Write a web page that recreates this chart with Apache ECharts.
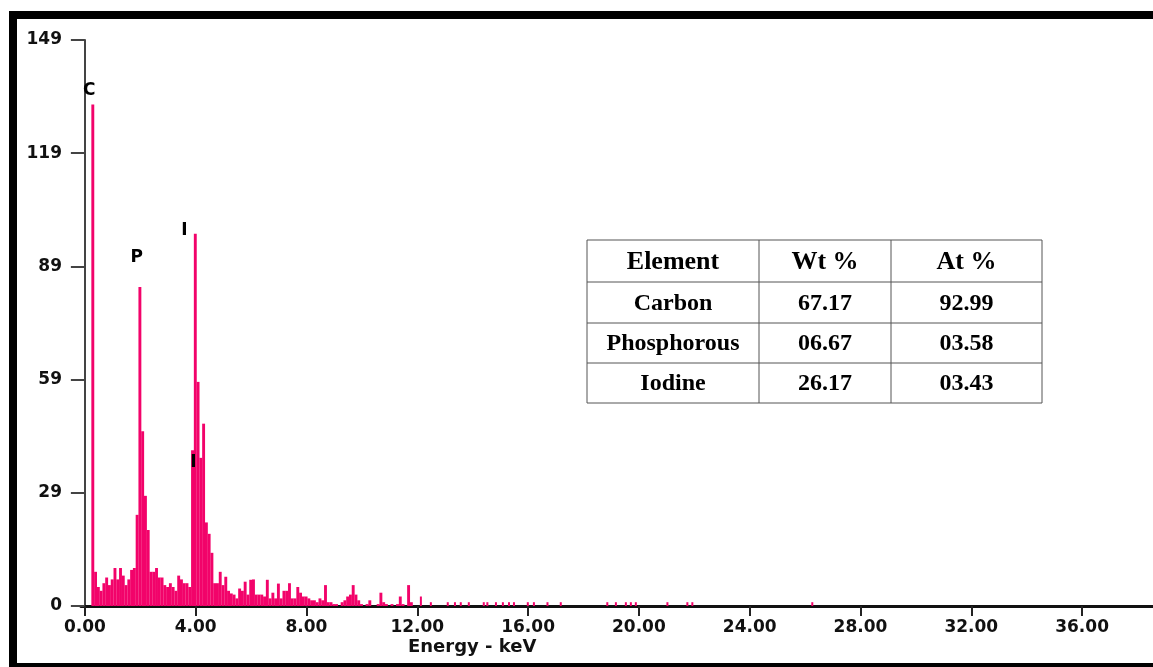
<!DOCTYPE html>
<html>
<head>
<meta charset="utf-8">
<script src="https://cdn.jsdelivr.net/npm/echarts@6/dist/echarts.min.js"></script>
<style>
  html, body { margin: 0; padding: 0; background: #fff; }
  #main { width: 1153px; height: 667px; }
</style>
</head>
<body>
<div id="main"></div>
<script>
// spectrum channels: centre of first bin and bin width (keV)
const binStart = 0.27;
const binStep = 0.1;
const counts = [
  132, 9, 5, 4, 6, 7.5, 5.5, 7, 10, 7,
  10, 8, 5.5, 7, 9.5, 10, 24, 84, 46, 29,
  20, 9, 9, 10, 7.5, 7.5, 5.5, 5, 6, 5,
  4, 8, 7, 6, 6, 5, 41, 98, 59, 39,
  48, 22, 19, 14, 6, 6, 9, 5.5, 7.7, 4,
  3.3, 3, 2, 4.6, 4, 6.4, 3, 6.9, 7, 3,
  3, 3, 2.5, 6.9, 2, 3.5, 2, 5.9, 2, 4,
  4, 6, 2, 2, 5, 3.5, 2.5, 2.5, 2, 1.5,
  1.5, 1, 2, 1.5, 5.5, 1, 1, 0.5, 0.5, 0,
  1, 1.5, 2.5, 3, 5.5, 3, 1.5, 0.5, 0, 0.5,
  1.5, 0, 0, 0.5, 3.5, 1, 0.5, 0, 0.5, 0,
  0.5, 2.5, 0.5, 0, 5.5, 1
];
// sparse counts in the high-energy tail
const tailEnergy = [12.13, 12.49, 13.10, 13.36, 13.57, 13.86, 14.40, 14.53, 14.84, 15.09,
  15.31, 15.49, 15.99, 16.21, 16.70, 17.18, 18.86, 19.17, 19.53, 19.71, 19.89, 21.03,
  21.75, 21.93, 26.26];
const tailCounts = [2.5, 1, 1, 1, 1, 1, 1, 1, 1, 1,
  1, 1, 1, 1, 1, 1, 1, 1, 1, 1, 1, 1,
  1, 1, 1];

const peakNames = ['C', 'P', 'I', 'I'];
const peakEnergy = [0.16, 1.87, 3.59, 3.92];
const peakCount = [135.6, 91.8, 98.9, 37.7];

const xTicks = [0, 4, 8, 12, 16, 20, 24, 28, 32, 36];
const yTicks = [0, 29.8, 59.6, 89.4, 119.2, 149];
const yTickLabels = ['0', '29', '59', '89', '119', '149'];

const tableHeader = ['Element', 'Wt %', 'At %'];
const tableRows = [
  ['Carbon', '67.17', '92.99'],
  ['Phosphorous', '06.67', '03.58'],
  ['Iodine', '26.17', '03.43']
];

const barColor = '#f2036a';
const axisFont = 'DejaVu Sans';

const mainData = counts.map(function (c, i) {
  return [+(binStart + i * binStep).toFixed(2), c];
});
const tailData = tailEnergy.map(function (e, i) { return [e, tailCounts[i]]; });
const labelData = peakNames.map(function (n, i) { return { name: n, value: [peakEnergy[i], peakCount[i]] }; });

// table drawn as graphic elements
function buildTable() {
  const colX = [587, 759, 891, 1042];
  const rowY = [240, 282, 323, 363, 403];
  const els = [];
  els.push({
    type: 'rect', shape: { x: colX[0], y: rowY[0], width: colX[3] - colX[0], height: rowY[4] - rowY[0] },
    style: { fill: '#fff', stroke: '#555', lineWidth: 1 }
  });
  for (let i = 1; i < 3; i++) {
    els.push({ type: 'line', shape: { x1: colX[i], y1: rowY[0], x2: colX[i], y2: rowY[4] }, style: { stroke: '#555', lineWidth: 1 } });
  }
  for (let j = 1; j < 4; j++) {
    els.push({ type: 'line', shape: { x1: colX[0], y1: rowY[j], x2: colX[3], y2: rowY[j] }, style: { stroke: '#555', lineWidth: 1 } });
  }
  const rows = [tableHeader].concat(tableRows);
  rows.forEach(function (row, r) {
    row.forEach(function (txt, c) {
      els.push({
        type: 'text',
        x: (colX[c] + colX[c + 1]) / 2,
        y: (rowY[r] + rowY[r + 1]) / 2 + 1,
        style: {
          text: txt,
          fill: '#000',
          font: 'bold ' + (r === 0 ? 26 : 24) + 'px "Liberation Serif", serif',
          textAlign: 'center',
          textVerticalAlign: 'middle'
        }
      });
    });
  });
  return els;
}

const chart = echarts.init(document.getElementById('main'));
const option = {
  animation: false,
  backgroundColor: '#fff',
  grid: { left: 81, right: 0, top: 40, bottom: 61 },
  xAxis: {
    type: 'value',
    min: -0.14,
    max: 38.56,
    axisLine: { lineStyle: { color: '#111', width: 3 } },
    axisTick: { customValues: xTicks, length: 10, lineStyle: { color: '#222', width: 2 } },
    axisLabel: {
      customValues: xTicks,
      margin: 13,
      color: '#111',
      fontFamily: axisFont,
      fontWeight: 'bold',
      fontSize: 17,
      formatter: function (v) { return v.toFixed(2); }
    },
    splitLine: { show: false }
  },
  yAxis: {
    type: 'value',
    min: 0,
    max: 149,
    axisLine: { show: true, lineStyle: { color: '#444', width: 2 } },
    axisTick: { show: true, customValues: yTicks, length: 14, lineStyle: { color: '#444', width: 2 } },
    axisLabel: {
      customValues: yTicks,
      margin: 19,
      color: '#111',
      fontFamily: axisFont,
      fontWeight: 'bold',
      fontSize: 17,
      formatter: function (v) { return yTickLabels[yTicks.indexOf(v)]; }
    },
    splitLine: { show: false }
  },
  series: [
    {
      type: 'bar',
      data: mainData,
      barWidth: 2.9,
      itemStyle: { color: barColor },
      z: 2
    },
    {
      type: 'bar',
      data: tailData,
      barWidth: 2,
      barGap: '-100%',
      itemStyle: { color: barColor },
      z: 2
    },
    {
      type: 'scatter',
      data: labelData,
      symbolSize: 0,
      itemStyle: { opacity: 1 },
      label: {
        show: true,
        position: 'inside',
        formatter: '{b}',
        color: '#000',
        textBorderWidth: 0,
        fontFamily: axisFont,
        fontWeight: 'bold',
        fontSize: 17
      },
      z: 5
    }
  ],
  graphic: [
    {
      type: 'rect',
      shape: { x: 13, y: 15, width: 1200, height: 652 },
      style: { fill: 'none', stroke: '#000', lineWidth: 8 },
      silent: true
    },
    {
      type: 'text',
      x: 408,
      y: 638,
      style: {
        text: 'Energy - keV',
        fill: '#111',
        font: 'bold 18px "DejaVu Sans", sans-serif'
      }
    }
  ].concat(buildTable())
};
chart.setOption(option);
</script>
</body>
</html>
